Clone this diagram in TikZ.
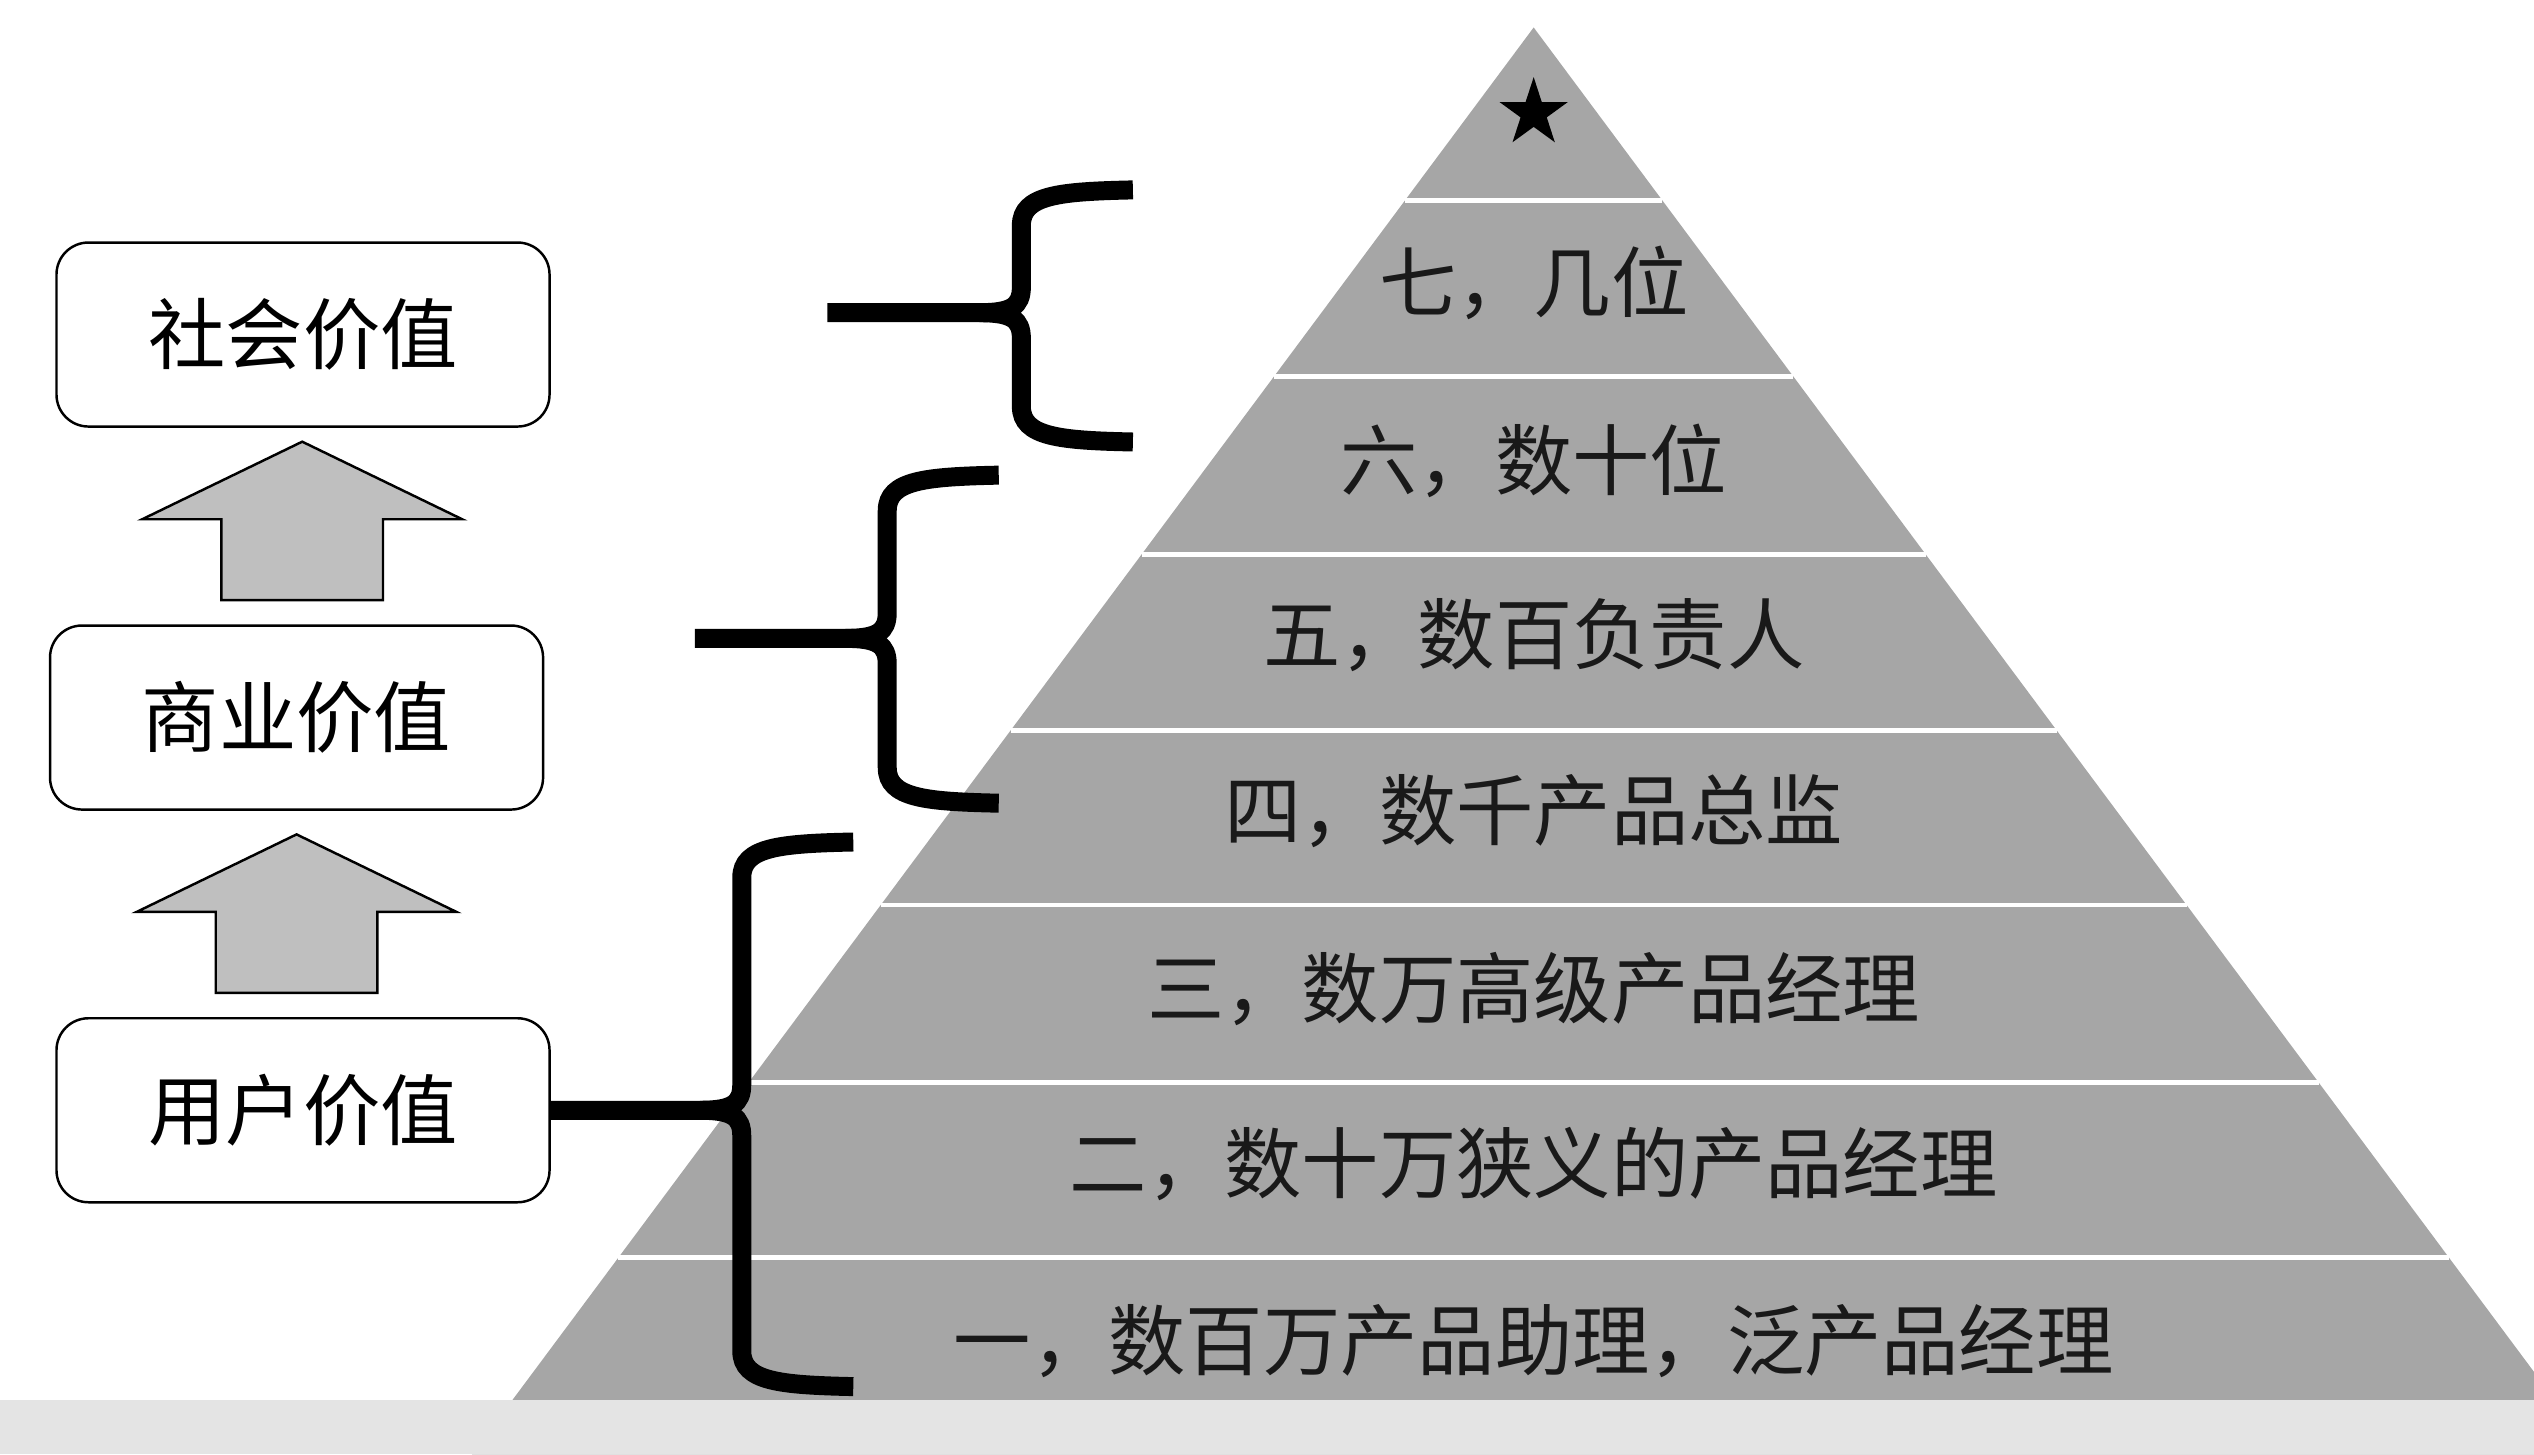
\documentclass[tikz,border=0pt]{standalone}
\usepackage{fontspec}
\usepackage{tikz}
\usetikzlibrary{positioning,shapes.geometric}
\newfontfamily\zh{Noto Sans CJK SC}
\definecolor{pyrgray}{HTML}{A6A6A6}
\definecolor{arrgray}{HTML}{BFBFBF}
\definecolor{bargray}{HTML}{E4E4E4}
\newcommand{\valbrace}[5]{%
  \draw[bracestroke] (#1+69,#2) .. controls (#1+24,#2+1) and (#1,#2+3) .. (#1,#2+22) -- (#1,#4-16) .. controls (#1,#4-4) and (#1-6,#4) .. (#1-26,#4) -- (#5);
  \draw[bracestroke] (#1+69,#3) .. controls (#1+24,#3-1) and (#1,#3-3) .. (#1,#3-22) -- (#1,#4+16) .. controls (#1,#4+4) and (#1-6,#4) .. (#1-26,#4);}
\newcommand{\blockup}[2]{%
  \draw[blockarrow, shift={(#1.north)}] (#2-50,-15) -- (#2+50,-15) -- (#2+50,-65) -- (#2+99,-65) -- (#2,-113) -- (#2-99,-65) -- (#2-50,-65) -- cycle;}

\begin{document}
\begin{tikzpicture}[x=0.01616cm, y=-0.01616cm, font=\zh\fontsize{22pt}{26pt}\selectfont,
    valbox/.style={draw, rounded corners=0.32cm, line width=0.7pt, minimum width=4.93cm, minimum height=1.84cm, fill=white},
    blockarrow/.style={fill=arrgray, line width=0.7pt},
    bracestroke/.style={line width=5.4pt},
    sepline/.style={white, line width=1.4pt},
    lvl/.style={text=black!90}]
      \useasboundingbox (0,0) rectangle (1568,900);
      %pyramid
      \fill[pyrgray] (949,17) -- (292,900) -- (1606,900) -- cycle;
      \draw[sepline] (869.4,124) -- (1028.6,124);
      \draw[sepline] (788.3,233) -- (1109.7,233);
      \draw[sepline] (706.4,343) -- (1191.6,343);
      \draw[sepline] (625.3,452) -- (1272.7,452);
      \draw[sepline] (545.0,560) -- (1353.0,560);
      \draw[sepline] (463.1,670) -- (1434.9,670);
      \draw[sepline] (382.7,778) -- (1515.3,778);
      \fill[bargray] (0,866) rectangle (1568,900);
      %nodes
      \node[star, star points=5, star point ratio=2.618, fill=black, inner sep=0pt, minimum size=0.72cm] (top) at (949,70) {};
      \node[lvl] (l7) at (949,175) {七，几位};
      \node[lvl] (l6) at (949,285) {六，数十位};
      \node[lvl] (l5) at (949,393) {五，数百负责人};
      \node[lvl] (l4) at (949,502) {四，数千产品总监};
      \node[lvl] (l3) at (949,612) {三，数万高级产品经理};
      \node[lvl] (l2) at (949,720) {二，数十万狭义的产品经理};
      \node[lvl] (l1) at (949,830) {一，数百万产品助理，泛产品经理};
      \node[valbox] (soc) at (187.5,207) {社会价值};
      \node[valbox] (biz) at (183.5,444) {商业价值};
      \node[valbox] (usr) at (187.5,687) {用户价值};
      \coordinate (s7) at (512,193.5);
      \coordinate (s5) at (430,395);
      %edges
      \blockup{biz}{3.5}
      \blockup{usr}{-4}
      \valbrace{632}{117.5}{273.5}{193.5}{s7}
      \valbrace{549}{294}{497}{395}{s5}
      \valbrace{459}{521}{858}{687}{usr.east}
\end{tikzpicture}
\end{document}
